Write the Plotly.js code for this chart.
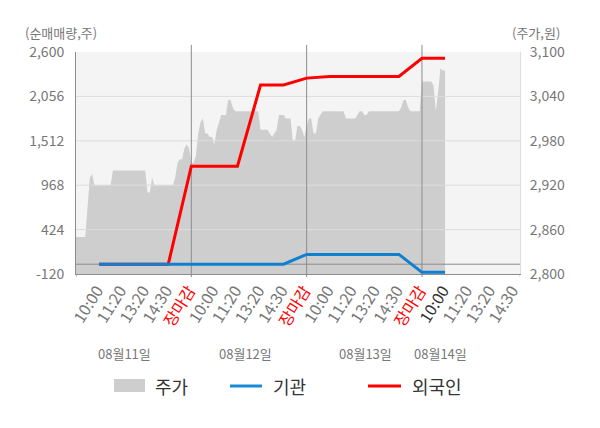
<!DOCTYPE html>
<html>
<head>
<meta charset="utf-8">
<script src="https://cdn.plot.ly/plotly-3.0.1.min.js"></script>
<style>
	body { margin: 0; background: #ffffff; }
	#chart { width: 600px; height: 428px; }
</style>
</head>
<body>
<div id="chart"></div>
<script>
// x tick labels, one per time slot
var tickLabels = [
	'10:00', '11:20', '13:20', '14:30', '장마감',
	'10:00', '11:20', '13:20', '14:30', '장마감',
	'10:00', '11:20', '13:20', '14:30', '장마감',
	'10:00', '11:20', '13:20', '14:30'
];
var dayLabels = ['08월11일', '08월12일', '08월13일', '08월14일'];
var dayLabelPos = [2.1, 7.33, 12.55, 15.82];
var dayBreaks = [5, 10, 15];

// price (주가), sampled every 0.1 slot
var priceDay1 = [
	2850, 2850, 2850, 2850, 2850, 2890, 2930, 2935, 2920, 2920,
	2920, 2920, 2920, 2920, 2920, 2920, 2940, 2940, 2940, 2940,
	2940, 2940, 2940, 2940, 2940, 2940, 2940, 2940, 2940, 2940,
	2940, 2910, 2910, 2930, 2920, 2920, 2920, 2920, 2920, 2920,
	2920, 2920, 2920, 2930, 2950, 2955, 2955, 2970, 2975, 2970
];
var priceDay2 = [
	2950, 2950, 2960, 2990, 3005, 3010, 2990, 2990, 2985, 2985,
	2975, 2995, 3005, 3015, 3015, 3015, 3035, 3035, 3025, 3020,
	3020, 3020, 3020, 3020, 3020, 3020, 3020, 3020, 3020, 3020,
	2995, 2995, 2995, 2995, 2990, 2985, 2990, 2995, 3015, 3015,
	3015, 3010, 3010, 3010, 2980, 2980, 3000, 3000, 2995, 2985
];
var priceDay3 = [
	3000, 3010, 3010, 2990, 2990, 3010, 3015, 3020, 3020, 3020,
	3020, 3020, 3020, 3020, 3020, 3020, 3020, 3010, 3010, 3010,
	3010, 3010, 3015, 3020, 3020, 3015, 3015, 3020, 3020, 3020,
	3020, 3020, 3020, 3020, 3020, 3020, 3020, 3020, 3020, 3020,
	3020, 3025, 3035, 3035, 3025, 3020, 3020, 3020, 3020, 3020
];
var priceDay4 = [3060, 3060, 3060, 3060, 3060, 3055, 3020, 3045, 3078, 3075, 3075];

// cumulative net buying (순매매량), one value per slot from slot 1
var institution = [0, 0, 0, 0, 0, 0, 0, 0, 0, 120, 120, 120, 120, 120, -100, -100];
var foreigner = [0, 0, 0, 0, 1200, 1200, 1200, 2196, 2196, 2280, 2300, 2300, 2300, 2300, 2523, 2523];

var flowTicks = [-120, 424, 968, 1512, 2056, 2600];
var flowTickText = ['-120', '424', '968', '1,512', '2,056', '2,600'];
var priceTicks = [2800, 2860, 2920, 2980, 3040, 3100];
var priceTickText = ['2,800', '2,860', '2,920', '2,980', '3,040', '3,100'];

var xMax = 19.25;
var font = '"Noto Sans CJK KR", "Noto Sans", sans-serif';

var price = priceDay1.concat(priceDay2, priceDay3, priceDay4);
var priceX = price.map(function (v, i) { return i / 10; });
var slotX = foreigner.map(function (v, i) { return i + 1; });

var tickVals = tickLabels.map(function (t, i) { return i + 1; });
var tickText = tickLabels.map(function (t, i) {
	if (t === '장마감') return '<span style="color:#ff0000">' + t + '</span>';
	if (i === 15) return '<span style="color:#333333">' + t + '</span>';
	return t;
});

var area = {
	x: priceX,
	y: price,
	yaxis: 'y',
	mode: 'lines',
	fill: 'tozeroy',
	fillcolor: '#cecece',
	line: {width: 0, color: '#cecece'},
	hoverinfo: 'skip',
	showlegend: false
};

// grid drawn as a trace so it sits over the price area
var gx = [], gy = [];
flowTicks.slice(1, -1).forEach(function (v) {
	gx.push(0, xMax, null);
	gy.push(v, v, null);
});
var grid = {
	x: gx, y: gy, yaxis: 'y2', mode: 'lines',
	line: {color: '#dddddd', width: 1},
	hoverinfo: 'skip', showlegend: false
};

var vx = [], vy = [];
dayBreaks.forEach(function (b) {
	vx.push(b, b, null);
	vy.push(flowTicks[0], flowTicks[flowTicks.length - 1], null);
});
vx.push(0, xMax);
vy.push(0, 0);
var breaks = {
	x: vx, y: vy, yaxis: 'y2', mode: 'lines',
	line: {color: '#8c8c8c', width: 1},
	hoverinfo: 'skip', showlegend: false
};

var line1 = {
	x: slotX,
	y: foreigner,
	yaxis: 'y2',
	name: '외국인',
	mode: 'lines',
	line: {color: '#ff0000', width: 3},
	showlegend: false
};

var line2 = {
	x: slotX,
	y: institution,
	yaxis: 'y2',
	name: '기관',
	mode: 'lines',
	line: {color: '#0f7fd0', width: 3},
	showlegend: false
};

var shapes = [];
dayBreaks.forEach(function (b) {
	shapes.push({type: 'line', xref: 'x', yref: 'paper', x0: b, x1: b, y0: 1, y1: 1.032,
		line: {color: '#8c8c8c', width: 1}, layer: 'below'});
	shapes.push({type: 'line', xref: 'x', yref: 'paper', x0: b, x1: b, y0: -0.014, y1: 0,
		line: {color: '#8c8c8c', width: 1}, layer: 'below'});
});
shapes.push({type: 'line', xref: 'x', yref: 'paper', x0: 0, x1: 0, y0: -0.014, y1: 0,
	line: {color: '#8c8c8c', width: 1}, layer: 'below'});
shapes.push({type: 'line', xref: 'x', yref: 'paper', x0: xMax, x1: xMax, y0: -0.014, y1: 0,
	line: {color: '#cccccc', width: 1}, layer: 'below'});

// legend, drawn by hand
shapes.push({type: 'rect', xref: 'paper', yref: 'paper', x0: 0.0856, x1: 0.1554, y0: -0.5315, y1: -0.473,
	fillcolor: '#cecece', line: {width: 0}});
shapes.push({type: 'line', xref: 'paper', yref: 'paper', x0: 0.3468, x1: 0.4189, y0: -0.5045, y1: -0.5045,
	line: {color: '#1a8ad8', width: 3}});
shapes.push({type: 'line', xref: 'paper', yref: 'paper', x0: 0.6577, x1: 0.732, y0: -0.5045, y1: -0.5045,
	line: {color: '#ff0000', width: 3}});

var annotations = [
	{text: '(순매매량,주)', xref: 'paper', yref: 'paper', x: -0.034, y: 1.086, showarrow: false,
		xanchor: 'center', yanchor: 'middle', font: {size: 13, color: '#777777'}},
	{text: '(주가,원)', xref: 'paper', yref: 'paper', x: 1.035, y: 1.086, showarrow: false,
		xanchor: 'center', yanchor: 'middle', font: {size: 13, color: '#777777'}},
	{text: '주가', xref: 'paper', yref: 'paper', x: 0.1734, y: -0.5045, showarrow: false,
		xanchor: 'left', yanchor: 'middle', font: {size: 18, color: '#333333'}},
	{text: '기관', xref: 'paper', yref: 'paper', x: 0.4392, y: -0.5045, showarrow: false,
		xanchor: 'left', yanchor: 'middle', font: {size: 18, color: '#333333'}},
	{text: '외국인', xref: 'paper', yref: 'paper', x: 0.7523, y: -0.5045, showarrow: false,
		xanchor: 'left', yanchor: 'middle', font: {size: 18, color: '#333333'}}
];
dayLabels.forEach(function (d, i) {
	annotations.push({text: d, xref: 'x', yref: 'paper', x: dayLabelPos[i], y: -0.36, showarrow: false,
		xanchor: 'center', yanchor: 'middle', font: {size: 13, color: '#777777'}});
});

var layout = {
	autosize: false,
	width: 600,
	height: 428,
	hovermode: false,
	paper_bgcolor: '#ffffff',
	plot_bgcolor: '#f4f4f4',
	margin: {l: 76, r: 80, t: 52, b: 154},
	showlegend: false,
	font: {family: font, size: 14, color: '#777777'},
	xaxis: {
		range: [0, xMax],
		tickmode: 'array',
		tickvals: tickVals,
		ticktext: tickText,
		tickangle: -58,
		ticks: '',
		ticklabelshift: -2,
		tickfont: {size: 16, color: '#777777'},
		showgrid: false,
		zeroline: false,
		showline: true,
		linecolor: '#8c8c8c',
		linewidth: 1,
		fixedrange: true
	},
	yaxis: {
		range: [2800, 3100],
		side: 'right',
		tickmode: 'array',
		tickvals: priceTicks,
		ticktext: priceTickText,
		ticks: '',
		ticklabelstandoff: 6,
		showgrid: false,
		zeroline: false,
		showline: true,
		linecolor: '#dddddd',
		fixedrange: true
	},
	yaxis2: {
		range: [-120, 2600],
		side: 'left',
		overlaying: 'y',
		tickmode: 'array',
		tickvals: flowTicks,
		ticktext: flowTickText,
		ticks: '',
		ticklabelstandoff: 8,
		showgrid: false,
		zeroline: false,
		showline: true,
		linecolor: '#8c8c8c',
		fixedrange: true
	},
	shapes: shapes,
	annotations: annotations
};

var data = [area, grid, breaks, line1, line2];

Plotly.newPlot('chart', data, layout, {displayModeBar: false, staticPlot: true});
</script>
</body>
</html>
